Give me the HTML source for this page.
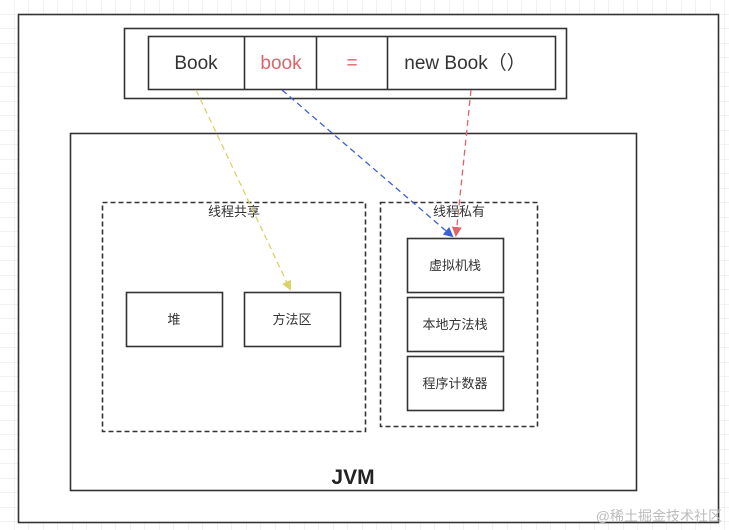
<!DOCTYPE html>
<html><head><meta charset="utf-8"><style>
html,body{margin:0;padding:0;background:#fff}
svg{display:block}
text{font-family:"Liberation Sans","Noto Sans CJK SC",sans-serif}
</style></head><body>
<svg width="729" height="530" viewBox="0 0 729 530" xmlns="http://www.w3.org/2000/svg">
<defs>
<pattern id="g" width="14.5" height="14.5" patternUnits="userSpaceOnUse">
<path d="M14.5 0V14.5H0" fill="none" stroke="#e6e6e6" stroke-width="1"/>
</pattern>
<marker id="ay" markerWidth="10" markerHeight="10" refX="8" refY="5" orient="auto" markerUnits="userSpaceOnUse"><path d="M0,0L10,5L0,10z" fill="#d8d46a"/></marker>
<marker id="ab" markerWidth="10" markerHeight="10" refX="8" refY="5" orient="auto" markerUnits="userSpaceOnUse"><path d="M0,0L10,5L0,10z" fill="#3a5fd9"/></marker>
<marker id="ar" markerWidth="10" markerHeight="10" refX="8" refY="5" orient="auto" markerUnits="userSpaceOnUse"><path d="M0,0L10,5L0,10z" fill="#e0636a"/></marker>
</defs>
<rect width="729" height="530" fill="url(#g)"/>
<rect x="18.5" y="14.5" width="700" height="508" fill="#fff" stroke="#333" stroke-width="1.6"/>
<rect x="124.5" y="28.5" width="442" height="70" fill="#fff" stroke="#333" stroke-width="1.6"/>
<rect x="148.5" y="36.5" width="407" height="53" fill="#fff" stroke="#333" stroke-width="1.6"/>
<line x1="244.5" y1="36" x2="244.5" y2="90" stroke="#333" stroke-width="1.6"/>
<line x1="316.5" y1="36" x2="316.5" y2="90" stroke="#333" stroke-width="1.6"/>
<line x1="387.5" y1="36" x2="387.5" y2="90" stroke="#333" stroke-width="1.6"/>
<g font-size="19" text-anchor="middle">
<text x="196" y="69" fill="#333">Book</text>
<text x="281" y="69" fill="#e0636a">book</text>
<text x="352" y="69" fill="#e0636a">=</text>
<text x="465" y="69" fill="#333">new Book（）</text>
</g>
<rect x="70.5" y="133.5" width="566" height="357" fill="none" stroke="#333" stroke-width="1.6"/>
<rect x="102.5" y="202.5" width="263" height="229" fill="none" stroke="#333" stroke-width="1.6" stroke-dasharray="5,3"/>
<rect x="380.5" y="202.5" width="157" height="224" fill="none" stroke="#333" stroke-width="1.6" stroke-dasharray="5,3"/>
<g font-size="13" fill="#333" text-anchor="middle">
<text x="234" y="216">线程共享</text>
<text x="459" y="216">线程私有</text>
</g>
<g fill="#fff" stroke="#333" stroke-width="1.6">
<rect x="126.5" y="292.5" width="96" height="54"/>
<rect x="244.5" y="292.5" width="96" height="54"/>
<rect x="407.5" y="238.5" width="96" height="54"/>
<rect x="407.5" y="297.5" width="96" height="54"/>
<rect x="407.5" y="356.5" width="96" height="54"/>
</g>
<g font-size="13" fill="#333" text-anchor="middle">
<text x="174" y="324">堆</text>
<text x="292" y="324">方法区</text>
<text x="455" y="270">虚拟机栈</text>
<text x="455" y="329">本地方法栈</text>
<text x="455" y="388">程序计数器</text>
</g>
<text x="353" y="484" font-size="21" font-weight="bold" fill="#222" text-anchor="middle">JVM</text>
<line x1="196" y1="90" x2="290" y2="289" stroke="#d8d46a" stroke-width="1.3" stroke-dasharray="6,4" marker-end="url(#ay)"/>
<line x1="282" y1="90" x2="452" y2="236" stroke="#3a5fd9" stroke-width="1.3" stroke-dasharray="6,4" marker-end="url(#ab)"/>
<line x1="471" y1="90" x2="456" y2="235" stroke="#e0636a" stroke-width="1.3" stroke-dasharray="6,4" marker-end="url(#ar)"/>
<text x="722" y="521" font-size="14" fill="#bbb" text-anchor="end">@稀土掘金技术社区</text>
</svg>
</body></html>
